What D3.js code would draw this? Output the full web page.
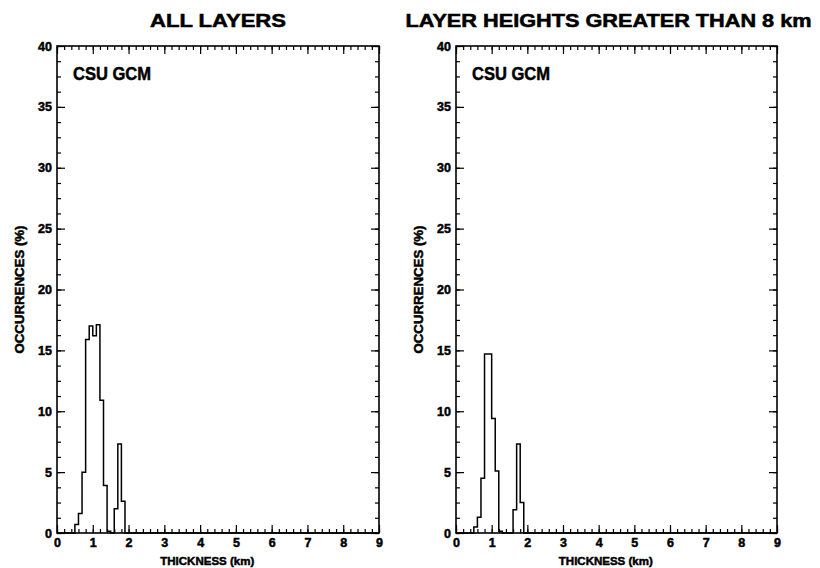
<!DOCTYPE html>
<html>
<head>
<meta charset="utf-8">
<script src="https://cdn.jsdelivr.net/npm/d3@7/dist/d3.min.js"></script>
<style>
  body { margin: 0; background: #fff; }
  svg text { font-family: "Liberation Sans", Arial, Helvetica, sans-serif; font-weight: bold; fill: #000; stroke: #000; stroke-width: 0.5px; }
</style>
</head>
<body>
<svg width="820" height="568"></svg>
<script>
// histogram bins are 0.1 km wide, left edges listed; everything else is 0
const binLeft = [0.4, 0.5, 0.6, 0.7, 0.8, 0.9, 1.0, 1.1, 1.2, 1.3, 1.4, 1.5, 1.6, 1.7, 1.8, 1.9];
const allLayers = [0, 0.7, 1.6, 5.0, 15.9, 17.0, 16.2, 17.1, 10.9, 3.9, 0.15, 0, 2.0, 7.3, 2.6, 0];
const highLayers = [0, 0.5, 1.3, 4.5, 14.7, 14.7, 9.4, 5.1, 0.15, 0, 0, 0, 1.9, 7.3, 2.5, 0];
const xTicks = [0, 1, 2, 3, 4, 5, 6, 7, 8, 9];
const yTicks = [0, 5, 10, 15, 20, 25, 30, 35, 40];

const panels = [
  { title: "ALL LAYERS", titleLen: 136, left: 57, right: 379, values: allLayers },
  { title: "LAYER HEIGHTS GREATER THAN 8 km", titleLen: 406, left: 456, right: 777, values: highLayers }
];

const svg = d3.select("svg");
const plotTop = 46, plotBottom = 533;

panels.forEach(p => {
  const x = d3.scaleLinear().domain([0, 9]).range([p.left, p.right]);
  const y = d3.scaleLinear().domain([0, 40]).range([plotBottom, plotTop]);
  const g = svg.append("g");

  // title
  g.append("text")
    .attr("x", (p.left + p.right) / 2 + (p.left < 100 ? 0 : -8))
    .attr("y", 27)
    .attr("text-anchor", "middle")
    .attr("font-size", 17.5)
    .attr("textLength", p.titleLen)
    .attr("lengthAdjust", "spacingAndGlyphs")
    .text(p.title);

  // minor ticks
  const xMinor = d3.range(0, 9.001, 0.2);
  const yMinor = d3.range(0, 40.001, 1.25);
  g.append("g").attr("transform", `translate(0,${plotBottom})`)
    .call(d3.axisBottom(x).tickValues(xMinor).tickSizeInner(-4).tickSizeOuter(0).tickFormat(""));
  g.append("g").attr("transform", `translate(0,${plotTop})`)
    .call(d3.axisTop(x).tickValues(xMinor).tickSizeInner(-4).tickSizeOuter(0).tickFormat(""));
  g.append("g").attr("transform", `translate(${p.left},0)`)
    .call(d3.axisLeft(y).tickValues(yMinor).tickSizeInner(-4).tickSizeOuter(0).tickFormat(""));
  g.append("g").attr("transform", `translate(${p.right},0)`)
    .call(d3.axisRight(y).tickValues(yMinor).tickSizeInner(-4).tickSizeOuter(0).tickFormat(""));

  // major ticks with labels
  const xb = g.append("g").attr("transform", `translate(0,${plotBottom})`)
    .call(d3.axisBottom(x).tickValues(xTicks).tickSizeInner(-8).tickSizeOuter(0).tickPadding(5).tickFormat(d3.format("d")));
  g.append("g").attr("transform", `translate(0,${plotTop})`)
    .call(d3.axisTop(x).tickValues(xTicks).tickSizeInner(-8).tickSizeOuter(0).tickFormat(""));
  const yl = g.append("g").attr("transform", `translate(${p.left},0)`)
    .call(d3.axisLeft(y).tickValues(yTicks).tickSizeInner(-8).tickSizeOuter(0).tickPadding(5).tickFormat(d3.format("d")));
  g.append("g").attr("transform", `translate(${p.right},0)`)
    .call(d3.axisRight(y).tickValues(yTicks).tickSizeInner(-8).tickSizeOuter(0).tickFormat(""));

  g.selectAll(".domain").remove();
  g.selectAll(".tick line").attr("stroke", "#000").attr("stroke-width", 1.2);
  [xb, yl].forEach(a => a.selectAll("text")
    .attr("font-size", 12.5)
    .attr("font-family", "Liberation Sans, Arial, sans-serif")
    .attr("font-weight", "bold"));

  // frame
  g.append("rect")
    .attr("x", p.left).attr("y", plotTop)
    .attr("width", p.right - p.left).attr("height", plotBottom - plotTop)
    .attr("fill", "none").attr("stroke", "#000").attr("stroke-width", 1.6);

  // histogram steps
  const pts = [[0, 0]];
  binLeft.forEach((b, i) => { pts.push([b, p.values[i]]); });
  pts.push([9, 0]);
  const line = d3.line().x(d => x(d[0])).y(d => y(d[1])).curve(d3.curveStepAfter);
  g.append("path")
    .attr("d", line(pts))
    .attr("fill", "none").attr("stroke", "#000").attr("stroke-width", 1.5);

  // model label
  g.append("text")
    .attr("x", p.left + 16).attr("y", 80)
    .attr("font-size", 18)
    .attr("textLength", 78)
    .attr("lengthAdjust", "spacingAndGlyphs")
    .text("CSU GCM");

  // axis titles
  g.append("text")
    .attr("x", x(4.2)).attr("y", 565)
    .attr("text-anchor", "middle")
    .attr("font-size", 11.5)
    .attr("textLength", 94)
    .attr("lengthAdjust", "spacingAndGlyphs")
    .text("THICKNESS (km)");
  g.append("text")
    .attr("transform", `translate(${p.left - 33},${(plotTop + plotBottom) / 2}) rotate(-90)`)
    .attr("text-anchor", "middle")
    .attr("font-size", 12.5)
    .attr("textLength", 128)
    .attr("lengthAdjust", "spacingAndGlyphs")
    .text("OCCURRENCES (%)");
});
</script>
</body>
</html>
